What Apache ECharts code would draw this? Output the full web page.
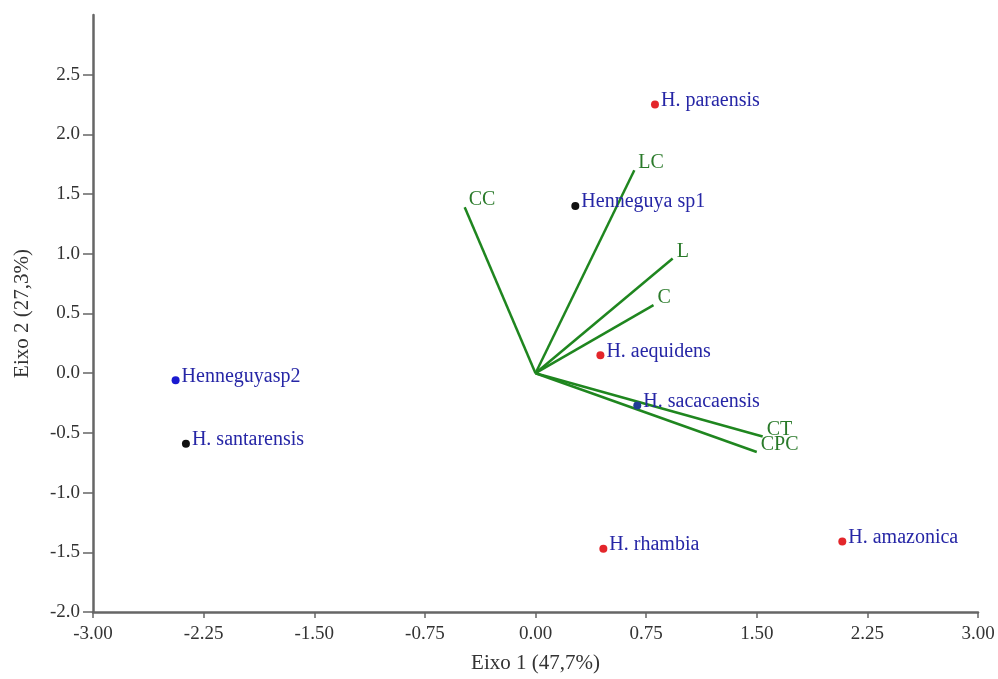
<!DOCTYPE html>
<html>
<head>
<meta charset="utf-8">
<script src="https://cdn.jsdelivr.net/npm/echarts@6/dist/echarts.min.js"></script>
<style>html,body{margin:0;padding:0;background:#fff}#c{width:998px;height:679px}</style>
</head>
<body>
<div id="c"></div>
<script>
// Species scores
const speciesNames = ["H. paraensis","Henneguya sp1","H. aequidens","H. sacacaensis","Henneguyasp2","H. santarensis","H. rhambia","H. amazonica"];
const speciesX = [0.81, 0.27, 0.44, 0.69, -2.44, -2.37, 0.46, 2.08];
const speciesY = [2.25, 1.40, 0.15, -0.27, -0.06, -0.59, -1.47, -1.41];
const speciesColors = ["#e3262b","#111111","#e3262b","#1f3d96","#1a1ad0","#111111","#e3262b","#e3262b"];
// Variable vectors
const vectorNames = ["CC","LC","L","C","CT","CPC"];
const vectorX = [-0.48, 0.67, 0.93, 0.80, 1.54, 1.50];
const vectorY = [1.39, 1.70, 0.96, 0.57, -0.53, -0.66];
// Ticks
const xTicks = [-3, -2.25, -1.5, -0.75, 0, 0.75, 1.5, 2.25, 3];
const yTicks = [-2, -1.5, -1, -0.5, 0, 0.5, 1, 1.5, 2, 2.5];

const serif = "Liberation Serif";
const green = "#1f861f";

const series = [];
vectorNames.forEach((n, i) => {
  series.push({
    type: 'line', name: n, data: [[0, 0], [vectorX[i], vectorY[i]]],
    showSymbol: false, symbol: 'none', silent: true,
    lineStyle: { color: green, width: 2.5 }, z: 2
  });
});
series.push({
  type: 'scatter', name: 'vecLabels', symbolSize: 0, silent: true,
  itemStyle: { opacity: 1 },
  data: vectorNames.map((n, i) => ({ name: n, value: [vectorX[i], vectorY[i]] })),
  label: { show: true, position: 'right', distance: 4, offset: [0, -7], formatter: '{b}',
    color: "#2a7a2a", opacity: 1, fontFamily: serif, fontSize: 20 }
});
series.push({
  type: 'scatter', name: 'species', symbolSize: 8, z: 5,
  data: speciesNames.map((n, i) => ({ name: n, value: [speciesX[i], speciesY[i]],
    itemStyle: { color: speciesColors[i], opacity: 1 } })),
  label: { show: true, position: 'right', distance: 2, offset: [0, -4], formatter: '{b}',
    color: "#2626a6", fontFamily: serif, fontSize: 20 }
});

const chart = echarts.init(document.getElementById('c'));
chart.setOption({
  animation: false,
  backgroundColor: '#fff',
  grid: { left: 93, right: 20, top: 15, bottom: 67 },
  xAxis: {
    type: 'value', min: -3, max: 3, interval: 0.75,
    name: 'Eixo 1 (47,7%)', nameLocation: 'middle', nameGap: 41,
    nameTextStyle: { fontFamily: serif, fontSize: 21, color: '#333' },
    axisLine: { onZero: false, lineStyle: { color: '#666', width: 2.5 } },
    axisTick: { show: true, length: 6, lineStyle: { color: '#666', width: 1.5 } },
    axisLabel: { fontFamily: serif, fontSize: 19, color: '#333', margin: 13,
      formatter: v => v.toFixed(2) },
    splitLine: { show: false }
  },
  yAxis: {
    type: 'value', min: -2, max: 3, interval: 0.5,
    name: 'Eixo 2 (27,3%)', nameLocation: 'middle', nameGap: 60,
    nameTextStyle: { fontFamily: serif, fontSize: 21, color: '#333' },
    axisLine: { onZero: false, lineStyle: { color: '#666', width: 2.5 } },
    axisTick: { show: true, length: 10, customValues: yTicks, lineStyle: { color: '#666', width: 1.5 } },
    axisLabel: { fontFamily: serif, fontSize: 19, color: '#333', margin: 13,
      customValues: yTicks, formatter: v => v.toFixed(1) },
    splitLine: { show: false }
  },
  series: series
});
</script>
</body>
</html>
